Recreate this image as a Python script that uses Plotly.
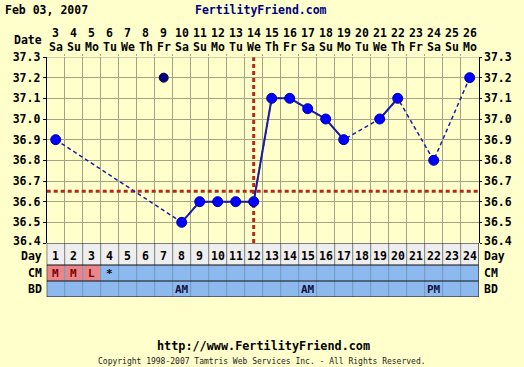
import plotly.graph_objects as go

# ---------------- data ----------------
cycle_days = list(range(1, 25))
dates = [3, 4, 5, 6, 7, 8, 9, 10, 11, 12, 13, 14, 15, 16, 17, 18, 19, 20, 21, 22, 23, 24, 25, 26]
weekdays = ["Sa", "Su", "Mo", "Tu", "We", "Th", "Fr", "Sa", "Su", "Mo", "Tu", "We",
            "Th", "Fr", "Sa", "Su", "Mo", "Tu", "We", "Th", "Fr", "Sa", "Su", "Mo"]
temps = [36.9, None, None, None, None, None, None, 36.5, 36.6, 36.6, 36.6, 36.6,
         37.1, 37.1, 37.05, 37.0, 36.9, None, 37.0, 37.1, None, 36.8, None, 37.2]
discarded_days = [7]
discarded_temps = [37.2]
coverline = 36.65
ovulation_day = 12
cm_labels = ["M", "M", "L", "*"] + [""] * 20
bd_labels = [""] * 7 + ["AM"] + [""] * 6 + ["AM"] + [""] * 6 + ["PM"] + [""] * 2
y_ticks = [36.4, 36.5, 36.6, 36.7, 36.8, 36.9, 37.0, 37.1, 37.2, 37.3]
row_names = ["Day", "CM", "BD"]
header_date = "Feb 03, 2007"
header_site = "FertilityFriend.com"
footer_url = "http://www.FertilityFriend.com"
footer_copy = "Copyright 1998-2007 Tamtris Web Services Inc. - All Rights Reserved."

# ---------------- style ----------------
W, H = 524, 367
BG = "#FFFFCC"
GRID = "#A3A385"
FONT = "DejaVu Sans Mono"
BLUE_ROW = "#8DB9EE"
PINK = "#E8868A"
DAYROW = "#EEEEEE"
RED = "#B5281C"
NAVY = "#1C1CA0"


def px(x):
    return x / W


def py(y):
    return 1 - y / H


def bold(size, color="black"):
    return dict(family=FONT, size=size, color=color, weight="bold")


# row layout in y2 units (pixel-like)
ROW_EDGES = [0, 22, 38, 54]

fig = go.Figure()

# dashed connection across gaps (drawn under solid segments)
conn_x = [d for d, t in zip(cycle_days, temps) if t is not None]
conn_y = [t for t in temps if t is not None]
fig.add_trace(go.Scatter(x=conn_x, y=conn_y, mode="lines",
                         line=dict(color=NAVY, width=1.5, dash="4px,3px"),
                         hoverinfo="skip", showlegend=False))
# solid segments between consecutive days
fig.add_trace(go.Scatter(x=cycle_days, y=temps, mode="lines+markers", connectgaps=False,
                         line=dict(color=NAVY, width=2),
                         marker=dict(size=10, color="#0000FF", line=dict(color="#0000B0", width=1)),
                         hoverinfo="skip", showlegend=False))
# discarded temperature
fig.add_trace(go.Scatter(x=discarded_days, y=discarded_temps, mode="markers",
                         marker=dict(size=9, color="#000080", line=dict(color="#000030", width=1)),
                         hoverinfo="skip", showlegend=False))
# invisible trace for right axis
fig.add_trace(go.Scatter(x=conn_x, y=conn_y, yaxis="y3", mode="lines",
                         line=dict(width=0), opacity=0, hoverinfo="skip", showlegend=False))

shapes = []
# top border
shapes.append(dict(type="line", xref="x", yref="y", x0=0.5, x1=24.5, y0=y_ticks[-1], y1=y_ticks[-1],
                   line=dict(color=GRID, width=1), layer="above"))
# coverline and ovulation line
shapes.append(dict(type="line", xref="x", yref="y", x0=0.5, x1=24.5, y0=coverline, y1=coverline,
                   line=dict(color=RED, width=3, dash="4px,3px"), layer="between"))
shapes.append(dict(type="line", xref="x", yref="y", x0=ovulation_day, x1=ovulation_day,
                   y0=y_ticks[0], y1=y_ticks[-1],
                   line=dict(color=RED, width=3, dash="4px,3px"), layer="between"))
# rows
row_fills = [DAYROW, BLUE_ROW, BLUE_ROW]
for i, fc in enumerate(row_fills):
    shapes.append(dict(type="rect", xref="x", yref="y2", x0=0.5, x1=24.5,
                       y0=ROW_EDGES[i], y1=ROW_EDGES[i + 1], fillcolor=fc,
                       line=dict(width=0), layer="below"))
for d, lab in zip(cycle_days, cm_labels):
    if lab in ("M", "L"):
        shapes.append(dict(type="rect", xref="x", yref="y2", x0=d - 0.5, x1=d + 0.5,
                           y0=ROW_EDGES[1], y1=ROW_EDGES[2], fillcolor=PINK,
                           line=dict(width=0), layer="below"))
for d in cycle_days[:-1]:
    shapes.append(dict(type="line", xref="x", yref="y2", x0=d + 0.5, x1=d + 0.5,
                       y0=ROW_EDGES[0], y1=ROW_EDGES[1], line=dict(color="#8C8C8C", width=1), layer="above"))
    shapes.append(dict(type="line", xref="x", yref="y2", x0=d + 0.5, x1=d + 0.5,
                       y0=ROW_EDGES[1], y1=ROW_EDGES[3], line=dict(color="#6E9CD6", width=1), layer="above"))
for e in ROW_EDGES:
    shapes.append(dict(type="line", xref="x", yref="y2", x0=0.5, x1=24.5, y0=e, y1=e,
                       line=dict(color="#111111", width=1), layer="above"))
for xe in (0.5, 24.5):
    shapes.append(dict(type="line", xref="x", yref="y2", x0=xe, x1=xe, y0=ROW_EDGES[0], y1=ROW_EDGES[-1],
                       line=dict(color="black", width=1), layer="above"))

ann = []
ann.append(dict(text=header_date, xref="paper", yref="paper", x=px(3), y=py(10),
                xanchor="left", yanchor="middle", showarrow=False, font=bold(11.5)))
ann.append(dict(text=header_site, xref="paper", yref="paper", x=px(261), y=py(10),
                xanchor="center", yanchor="middle", showarrow=False, font=bold(11.5, "#000080")))
ann.append(dict(text="Date", xref="paper", yref="paper", x=px(44), y=py(40),
                xanchor="right", yanchor="middle", showarrow=False, font=bold(11.5)))
for d, dt, wd in zip(cycle_days, dates, weekdays):
    ann.append(dict(text=str(dt), xref="x", yref="paper", x=d, y=py(33),
                    xanchor="center", yanchor="middle", showarrow=False, font=bold(11.5)))
    ann.append(dict(text=wd, xref="x", yref="paper", x=d, y=py(47),
                    xanchor="center", yanchor="middle", showarrow=False, font=bold(11.5)))
# bottom temperature label placed slightly above its line (as in the reference)
for xa, xp in (("right", 43), ("left", 482)):
    ann.append(dict(text=f"{y_ticks[0]:.1f}", xref="paper", yref="paper", x=px(xp), y=py(240.5),
                    xanchor=xa, yanchor="middle", showarrow=False, font=bold(11.5)))
for d in cycle_days:
    ann.append(dict(text=str(d), xref="x", yref="y2", x=d, y=(ROW_EDGES[0] + ROW_EDGES[1]) / 2 + 1.5,
                    xanchor="center", yanchor="middle", showarrow=False, font=bold(11.5)))
for d, lab in zip(cycle_days, cm_labels):
    if lab:
        col = "#7A0000" if lab != "*" else "black"
        ann.append(dict(text=lab, xref="x", yref="y2", x=d, y=(ROW_EDGES[1] + ROW_EDGES[2]) / 2,
                        xanchor="center", yanchor="middle", showarrow=False, font=bold(11, col)))
for d, lab in zip(cycle_days, bd_labels):
    if lab:
        ann.append(dict(text=lab, xref="x", yref="y2", x=d, y=(ROW_EDGES[2] + ROW_EDGES[3]) / 2,
                        xanchor="center", yanchor="middle", showarrow=False, font=bold(11, "#10103A")))
for i, name in enumerate(row_names):
    yc = (ROW_EDGES[i] + ROW_EDGES[i + 1]) / 2 + (1.5 if i == 0 else 0)
    ann.append(dict(text=name, xref="paper", yref="y2", x=px(44), y=yc,
                    xanchor="right", yanchor="middle", showarrow=False, font=bold(11.5)))
    ann.append(dict(text=name, xref="paper", yref="y2", x=px(482), y=yc,
                    xanchor="left", yanchor="middle", showarrow=False, font=bold(11.5)))
ann.append(dict(text=footer_url, xref="paper", yref="paper", x=px(263), y=py(346),
                xanchor="center", yanchor="middle", showarrow=False, font=bold(11.8)))
ann.append(dict(text=footer_copy, xref="paper", yref="paper", x=px(262), y=py(361),
                xanchor="center", yanchor="middle", showarrow=False,
                font=dict(family=FONT, size=8, color="#222222")))

tick_text = [""] + [f"{v:.1f}" for v in y_ticks[1:]]
fig.update_layout(
    width=W, height=H, autosize=False,
    margin=dict(l=0, r=0, t=0, b=0, pad=0, autoexpand=False),
    paper_bgcolor=BG, plot_bgcolor=BG,
    showlegend=False,
    xaxis=dict(domain=[px(46.7), px(478.7)], range=[0.5, 24.5], anchor="y", side="top",
               tickvals=[d + 0.5 for d in cycle_days[:-1]], showticklabels=False,
               ticks="outside", ticklen=2, tickcolor=GRID, automargin=False,
               showgrid=True, gridcolor=GRID, gridwidth=1, zeroline=False, showline=False,
               fixedrange=True),
    yaxis=dict(domain=[py(243), py(57)], range=[y_ticks[0], y_ticks[-1]], anchor="x",
               tickvals=y_ticks, ticktext=tick_text, ticks="outside", ticklen=3, tickcolor="black",
               tickfont=bold(11.5), showgrid=True, gridcolor=GRID, gridwidth=1, zeroline=False,
               showline=True, linecolor="black", linewidth=1, fixedrange=True, automargin=False),
    yaxis3=dict(overlaying="y", side="right", anchor="x", range=[y_ticks[0], y_ticks[-1]],
                tickvals=y_ticks, ticktext=tick_text, ticks="outside", ticklen=2, tickcolor="black",
                tickfont=bold(11.5), showgrid=False, zeroline=False, automargin=False,
                showline=True, linecolor="black", linewidth=1, fixedrange=True),
    yaxis2=dict(domain=[py(297), py(243)], range=[ROW_EDGES[-1], ROW_EDGES[0]], anchor="x",
                visible=False, fixedrange=True, automargin=False),
    shapes=shapes,
    annotations=ann,
)

fig.write_html("out.html", config={"displayModeBar": False},
               post_script="document.body.style.margin='0';document.documentElement.style.margin='0';")
